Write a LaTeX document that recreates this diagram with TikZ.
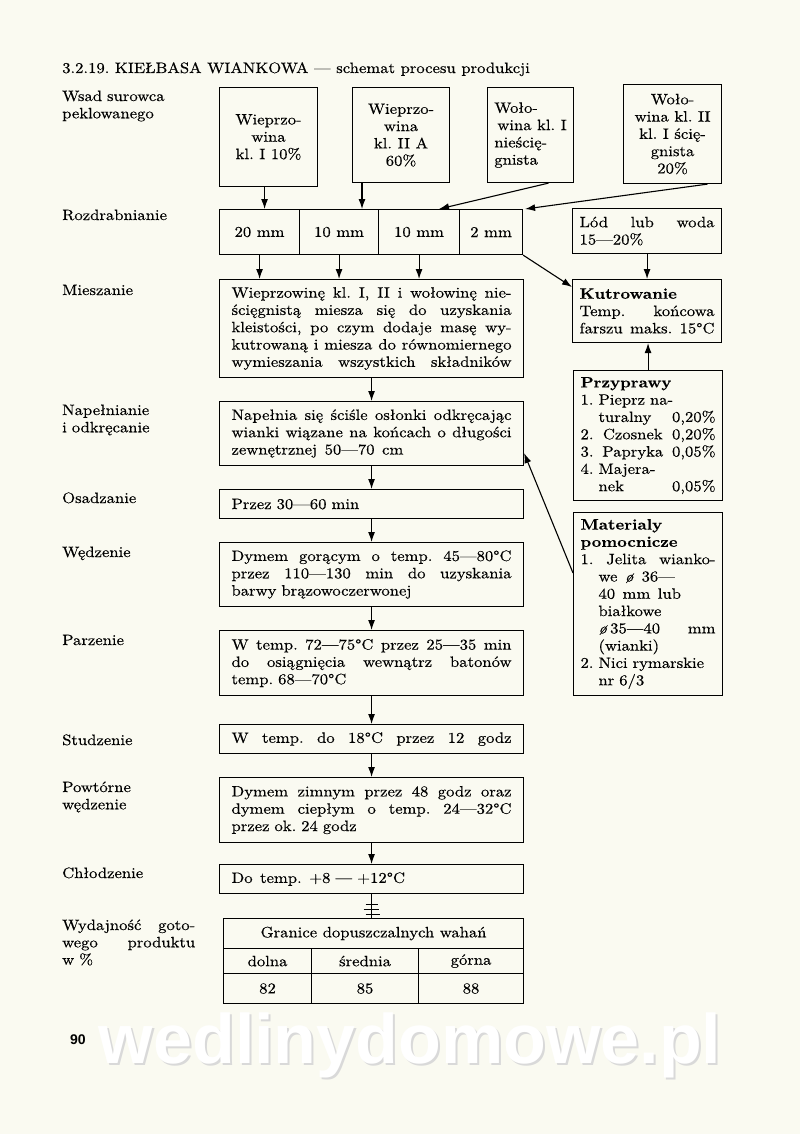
\documentclass[tikz,border=0pt]{standalone}
\usepackage{fontspec}
\setmainfont{lmroman10}[Extension=.otf, UprightFont=*-regular, BoldFont=*-bold, ItalicFont=*-italic, BoldItalicFont=*-bolditalic, FakeStretch=1.11, FakeBold=0.35]
\newfontfamily\wmfont{Liberation Sans}
\usetikzlibrary{arrows.meta}
\newlength\iwd
\newcommand\fs{\fontsize{15}{17.3}\selectfont\frenchspacing}
\newcommand\jl[1]{\makebox[\hsize][s]{\spaceskip=0pt\xspaceskip=0pt\frenchspacing #1}}
\newcommand\hl[1]{\settowidth{\iwd}{1.\ }\hspace*{\iwd}\makebox[\dimexpr\hsize-\iwd\relax][s]{\spaceskip=0pt\xspaceskip=0pt\frenchspacing #1}}
\newcommand\ind{\settowidth{\iwd}{1.\ }\hspace*{\iwd}}
\definecolor{paper}{RGB}{250,250,241}
\begin{document}
\begin{tikzpicture}[x=1pt,y=-1pt,
 every node/.style={font=\fs},
 mbox/.style={draw, line width=1.1pt, anchor=north west, inner xsep=12pt, inner ysep=2pt, text width=280pt, align=left},
 rbox/.style={draw, line width=1.1pt, anchor=north west, inner xsep=7pt, inner ysep=2pt, text width=135pt, align=left},
 sbox/.style={draw, line width=1.1pt, anchor=north west, inner sep=2pt, align=center},
 cell/.style={draw, line width=1.1pt, anchor=north west, inner sep=0pt},
 lab/.style={anchor=base west, inner sep=0pt, text width=140pt, align=left},
 arr/.style={line width=1.1pt, -{Latex[length=10pt,width=7pt]}}
]
\fill[paper] (0,0) rectangle (800,1134);
\useasboundingbox (0,0) rectangle (800,1134);

% watermark
\node[font=\wmfont\bfseries\fontsize{70}{70}\selectfont, text=gray!30] (wm0) at (412,1047) {wedlinydomowe.pl};
\node[font=\wmfont\bfseries\fontsize{70}{70}\selectfont, text=white] (wm) at (410,1045) {wedlinydomowe.pl};

% title
\node[anchor=base west, inner sep=0pt] (title) at (62,73) {3.2.19. KIEŁBASA WIANKOWA — schemat procesu produkcji};

% left labels
\node[lab] (l1) at (62,101) {Wsad surowca\\peklowanego};
\node[lab] (l2) at (62,220) {Rozdrabnianie};
\node[lab] (l3) at (62,295) {Mieszanie};
\node[lab] (l4) at (62,415) {Napełnianie\\i odkręcanie};
\node[lab] (l5) at (62,503) {Osadzanie};
\node[lab] (l6) at (62,557) {Wędzenie};
\node[lab] (l7) at (62,645) {Parzenie};
\node[lab] (l8) at (62,745) {Studzenie};
\node[lab] (l9) at (62,792) {Powtórne\\wędzenie};
\node[lab] (l10) at (62,878) {Chłodzenie};
\node[lab] (l11) at (62,930) {\makebox[133pt][s]{\spaceskip=0pt Wydajność goto-}\\\makebox[133pt][s]{\spaceskip=0pt wego produktu}\\w \%};

% source boxes
\node[sbox, minimum width=98pt, minimum height=99pt] (s1) at (219,87) {Wieprzo-\\wina\\kl. I 10\%};
\node[sbox, minimum width=97pt, minimum height=95pt] (s2) at (352,87) {Wieprzo-\\wina\\kl. II A\\60\%};
\node[sbox, align=left, minimum width=86pt, minimum height=95pt] (s3) at (487,87) {Woło-\\\hspace*{3pt}wina kl. I\\nieścię-\\gnista};
\node[sbox, minimum width=98pt, minimum height=99pt] (s4) at (623,84) {Woło-\\wina kl. II\\kl. I ścię-\\gnista\\20\%};

% rozdrabnianie
\node[cell, minimum width=80pt, minimum height=45pt] (t1) at (219,209) {20 mm};
\node[cell, minimum width=79pt, minimum height=45pt] (t2) at (299,209) {10 mm};
\node[cell, minimum width=81pt, minimum height=45pt] (t3) at (378,209) {10 mm};
\node[cell, minimum width=63pt, minimum height=45pt] (t4) at (459,209) {2 mm};

% main column
\node[mbox, minimum height=98pt] (mix) at (219,279) {\jl{Wieprzowinę kl. I, II i wołowinę nie-}\\\jl{ścięgnistą miesza się do uzyskania}\\\jl{kleistości, po czym dodaje masę wy-}\\\jl{kutrowaną i miesza do równomiernego}\\\jl{wymieszania wszystkich składników}};
\node[mbox, minimum height=64pt] (nap) at (219,401) {\jl{Napełnia się ściśle osłonki odkręcając}\\\jl{wianki wiązane na końcach o długości}\\zewnętrznej\enskip 50—70\enskip cm};
\node[mbox, minimum height=29pt] (osa) at (219,489) {Przez 30—60 min};
\node[mbox, minimum height=64pt] (wed) at (219,542) {\jl{Dymem gorącym o temp. 45—80°C}\\\jl{przez 110—130 min do uzyskania}\\barwy brązowoczerwonej};
\node[mbox, minimum height=65pt] (par) at (219,630) {\jl{W temp. 72—75°C przez 25—35 min}\\\jl{do osiągnięcia wewnątrz batonów}\\temp. 68—70°C};
\node[mbox, minimum height=29pt] (stu) at (219,724) {\jl{W temp. do 18°C przez 12 godz}};
\node[mbox, minimum height=65pt] (pow) at (219,777) {\jl{Dymem zimnym przez 48 godz oraz}\\\jl{dymem ciepłym o temp. 24—32°C}\\przez ok. 24 godz};
\node[mbox, minimum height=29pt] (chl) at (219,864) {Do\enskip temp.\enskip +8 — +12°C};

% right column
\node[rbox, minimum height=45pt] (lod) at (572,208) {\jl{Lód lub woda}\\15—20\%};
\node[rbox, minimum height=63pt] (kut) at (572,279) {\textbf{Kutrowanie}\\\jl{Temp. końcowa}\\\jl{farszu maks. 15°C}};
\node[rbox, minimum height=130pt] (prz) at (573,370) {\textbf{Przyprawy}\\1. Pieprz na-\\\hl{turalny 0,20\%}\\\jl{2. Czosnek 0,20\%}\\\jl{3. Papryka 0,05\%}\\4. Majera-\\\hl{nek 0,05\%}};
\node[rbox, minimum height=183pt] (mat) at (573,512) {\textbf{Materialy}\\\textbf{pomocnicze}\\\jl{1. Jelita wianko-}\\\ind we\enskip\textit{ø}\enskip 36—\\\ind 40\enskip mm\enskip lub\\\ind białkowe\\\hl{\textit{ø}\,35—40 mm}\\\ind (wianki)\\2. Nici rymarskie\\\ind nr 6/3};

% yield table
\node[cell, minimum width=300pt, minimum height=30pt] (gh) at (223,918) {Granice dopuszczalnych wahań};
\node[cell, minimum width=88pt, minimum height=25pt] (d1) at (223,948) {dolna};
\node[cell, minimum width=107pt, minimum height=25pt] (d2) at (311,948) {średnia};
\node[cell, minimum width=105pt, minimum height=25pt] (d3) at (418,948) {górna};
\node[cell, minimum width=88pt, minimum height=30pt] (v1) at (223,973) {82};
\node[cell, minimum width=107pt, minimum height=30pt] (v2) at (311,973) {85};
\node[cell, minimum width=105pt, minimum height=30pt] (v3) at (418,973) {88};

% page number
\node[font=\wmfont\bfseries\fontsize{14}{14}\selectfont] (pg) at (78,1040) {90};

% connectors
\coordinate (a1) at ([xshift=-4pt]s1.south);
\draw[arr] (a1) -- (a1 |- t1.north);
\coordinate (a2) at ([xshift=10pt]s2.south west);
\draw[arr] (a2) -- (a2 |- t2.north);
\draw[arr] ([xshift=18pt]s3.south) -- ([xshift=20pt]t3.north);
\draw[arr] ([xshift=35pt]s4.south) -- ([xshift=2pt]t4.north east);
\draw[arr] (t1.south) -- (t1.south |- mix.north);
\draw[arr] (t2.south) -- (t2.south |- mix.north);
\draw[arr] (t3.south) -- (t3.south |- mix.north);
\draw[arr] (t4.south east) -- ([yshift=-8pt]kut.north west);
\draw[arr] (lod.south) -- (kut.north);
\draw[arr] (prz.north) -- (prz.north |- kut.south);
\draw[arr] ([yshift=-61pt]mat.north west) -- ([yshift=13pt]nap.south east);
\draw[arr] (mix.south) -- (nap.north);
\draw[arr] (nap.south) -- (osa.north);
\draw[arr] (osa.south) -- (wed.north);
\draw[arr] (wed.south) -- (par.north);
\draw[arr] (par.south) -- (stu.north);
\draw[arr] (stu.south) -- (pow.north);
\draw[arr] (pow.south) -- (chl.north);
\draw[line width=1.1pt] (chl.south) -- (chl.south |- gh.north);
\draw[line width=1pt] ([xshift=-6pt,yshift=-10pt]chl.south) -- ([xshift=6pt,yshift=-10pt]chl.south);
\draw[line width=1pt] ([xshift=-8pt,yshift=-15pt]chl.south) -- ([xshift=7pt,yshift=-15pt]chl.south);
\draw[line width=1pt] ([xshift=-6pt,yshift=-20pt]chl.south) -- ([xshift=8pt,yshift=-20pt]chl.south);
\end{tikzpicture}
\end{document}
